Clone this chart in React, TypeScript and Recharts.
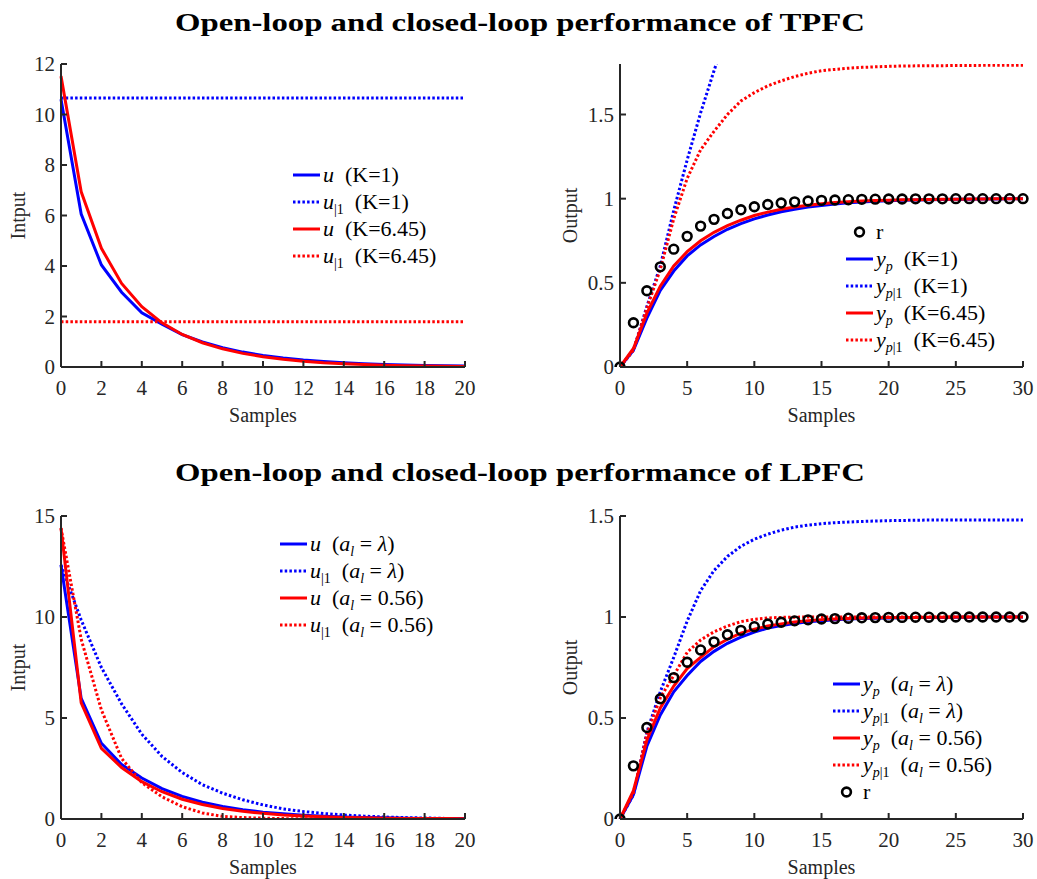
import type { ReactNode } from "react";
import { LineChart, Line, XAxis, YAxis, Label } from "recharts";

const FONT = '"Liberation Serif", "Times New Roman", serif';
const BLUE = "#0000ff";
const RED = "#ff0000";
const AXIS = "#262626";

// sample indices
const samples20 = [0, 1, 2, 3, 4, 5, 6, 7, 8, 9, 10, 11, 12, 13, 14, 15, 16, 17, 18, 19, 20];
const samples30 = [
  0, 1, 2, 3, 4, 5, 6, 7, 8, 9, 10, 11, 12, 13, 14, 15, 16, 17, 18, 19, 20, 21, 22, 23, 24, 25,
  26, 27, 28, 29, 30,
];

const ticks20 = [0, 2, 4, 6, 8, 10, 12, 14, 16, 18, 20];
const ticks30 = [0, 5, 10, 15, 20, 25, 30];
const tpInputTicks = [0, 2, 4, 6, 8, 10, 12];
const tpOutputTicks = [0, 0.5, 1, 1.5];
const lpInputTicks = [0, 5, 10, 15];
const lpOutputTicks = [0, 0.5, 1, 1.5];

// TPFC - input
const tpU_K1 = [10.6, 6.06, 4.04, 2.96, 2.15, 1.7, 1.28, 0.99, 0.76, 0.59, 0.46, 0.36, 0.28, 0.22, 0.17, 0.13, 0.1, 0.08, 0.06, 0.05, 0.04];
const tpU1_K1 = [10.65, 10.65, 10.65, 10.65, 10.65, 10.65, 10.65, 10.65, 10.65, 10.65, 10.65, 10.65, 10.65, 10.65, 10.65, 10.65, 10.65, 10.65, 10.65, 10.65, 10.65];
const tpU_K645 = [11.52, 6.94, 4.7, 3.31, 2.39, 1.75, 1.29, 0.96, 0.72, 0.54, 0.41, 0.31, 0.23, 0.17, 0.13, 0.1, 0.07, 0.05, 0.04, 0.03, 0.02];
const tpU1_K645 = [1.79, 1.79, 1.79, 1.79, 1.79, 1.79, 1.79, 1.79, 1.79, 1.79, 1.79, 1.79, 1.79, 1.79, 1.79, 1.79, 1.79, 1.79, 1.79, 1.79, 1.79];

// reference trajectory (both output plots)
const refR = [0, 0.263, 0.453, 0.595, 0.7, 0.776, 0.837, 0.877, 0.912, 0.934, 0.952, 0.965, 0.974, 0.981, 0.986, 0.99, 0.992, 0.994, 0.996, 0.997, 0.998, 0.998, 0.999, 0.999, 0.999, 1, 1, 1, 1, 1, 1];

// TPFC - output
const tpY_K1 = [0, 0.1, 0.29, 0.455, 0.57, 0.66, 0.725, 0.775, 0.818, 0.852, 0.88, 0.903, 0.922, 0.937, 0.95, 0.96, 0.968, 0.975, 0.98, 0.984, 0.987, 0.99, 0.992, 0.993, 0.995, 0.996, 0.997, 0.998, 0.998, 0.999, 0.999];
const tpY1_K1 = [0, 0.1, 0.36, 0.6, 0.93, 1.23, 1.51, 1.76, 2.0, 2.24, null, null, null, null, null, null, null, null, null, null, null, null, null, null, null, null, null, null, null, null, null];
const tpY_K645 = [0, 0.11, 0.32, 0.48, 0.6, 0.685, 0.75, 0.8, 0.84, 0.872, 0.9, 0.92, 0.937, 0.95, 0.961, 0.97, 0.977, 0.982, 0.986, 0.989, 0.991, 0.993, 0.994, 0.995, 0.996, 0.997, 0.998, 0.998, 0.999, 0.999, 1];
const tpY1_K645 = [0, 0.1, 0.35, 0.58, 0.88, 1.12, 1.29, 1.4, 1.5, 1.58, 1.63, 1.67, 1.7, 1.725, 1.745, 1.76, 1.768, 1.775, 1.78, 1.783, 1.786, 1.788, 1.789, 1.79, 1.79, 1.791, 1.791, 1.792, 1.792, 1.792, 1.792];

// LPFC - input
const lpU_lam = [12.57, 5.97, 3.75, 2.7, 2.03, 1.5, 1.12, 0.83, 0.62, 0.46, 0.34, 0.26, 0.19, 0.14, 0.1, 0.08, 0.06, 0.04, 0.03, 0.02, 0.02];
const lpU1_lam = [12.57, 9.85, 7.5, 5.7, 4.2, 3.1, 2.3, 1.7, 1.28, 0.95, 0.7, 0.5, 0.37, 0.27, 0.2, 0.14, 0.1, 0.07, 0.05, 0.03, 0.02];
const lpU_056 = [14.4, 5.75, 3.5, 2.55, 1.85, 1.35, 0.98, 0.72, 0.52, 0.38, 0.28, 0.2, 0.15, 0.11, 0.08, 0.06, 0.04, 0.03, 0.02, 0.02, 0.01];
const lpU1_056 = [14.4, 8.9, 5.4, 3.0, 1.8, 1.1, 0.61, 0.3, 0.13, 0.07, 0.04, 0.02, 0.01, 0.01, 0, 0, 0, 0, 0, 0, 0];

// LPFC - output
const lpY_lam = [0, 0.12, 0.36, 0.515, 0.63, 0.71, 0.78, 0.83, 0.87, 0.9, 0.925, 0.945, 0.958, 0.968, 0.976, 0.982, 0.986, 0.99, 0.992, 0.994, 0.995, 0.996, 0.997, 0.998, 0.998, 0.999, 0.999, 1, 1, 1, 1];
const lpY1_lam = [0, 0.12, 0.43, 0.63, 0.8, 0.98, 1.13, 1.23, 1.3, 1.35, 1.385, 1.41, 1.43, 1.445, 1.455, 1.462, 1.467, 1.47, 1.473, 1.475, 1.477, 1.478, 1.479, 1.48, 1.48, 1.48, 1.48, 1.48, 1.48, 1.48, 1.48];
const lpY_056 = [0, 0.14, 0.39, 0.55, 0.658, 0.745, 0.8, 0.853, 0.89, 0.92, 0.94, 0.955, 0.966, 0.975, 0.982, 0.987, 0.99, 0.993, 0.995, 0.996, 0.997, 0.998, 0.998, 0.999, 0.999, 1, 1, 1, 1, 1, 1];
const lpY1_056 = [0, 0.13, 0.42, 0.6, 0.71, 0.825, 0.886, 0.927, 0.955, 0.977, 0.989, 0.995, 0.998, 0.999, 1, 1, 1, 1, 1, 1, 1, 1, 1, 1, 1, 1, 1, 1, 1, 1, 1];

type Kind = "solid" | "dotted" | "circle";
interface Series {
  key: string;
  values: (number | null)[];
  color: string;
  kind: Kind;
  label: ReactNode;
}

const sub = (s: ReactNode) => (
  <sub style={{ fontSize: 14, verticalAlign: -5, lineHeight: 0 }}>{s}</sub>
);
const it = (s: string) => <i>{s}</i>;
const gap = "\u00a0\u00a0";

const TICK = 6;
const TICK_FONT = 21;

function BottomTick(props: any) {
  const { x, y, payload } = props;
  return (
    <g>
      <line x1={x} x2={x} y1={y} y2={y - TICK} stroke={AXIS} strokeWidth={2} />
      <text x={x} y={y + 28} textAnchor="middle" fontFamily={FONT} fontSize={TICK_FONT} fill={AXIS}>
        {payload.value}
      </text>
    </g>
  );
}
function TopTick(props: any) {
  const { x, y } = props;
  return <line x1={x} x2={x} y1={y} y2={y + TICK} stroke={AXIS} strokeWidth={2} />;
}
function LeftTick(props: any) {
  const { x, y, payload } = props;
  return (
    <g>
      <line x1={x} x2={x + TICK} y1={y} y2={y} stroke={AXIS} strokeWidth={2} />
      <text x={x - 6} y={y} dy="0.35em" textAnchor="end" fontFamily={FONT} fontSize={TICK_FONT} fill={AXIS}>
        {payload.value}
      </text>
    </g>
  );
}
function RightTick(props: any) {
  const { x, y } = props;
  return <line x1={x} x2={x - TICK} y1={y} y2={y} stroke={AXIS} strokeWidth={2} />;
}

interface PanelProps {
  box: { left: number; top: number; width: number; height: number };
  plot: { x0: number; y0: number; x1: number; y1: number };
  samples: number[];
  xTicks: number[];
  yTicks: number[];
  yDomain: [number, number];
  series: Series[];
  yTitle: string;
  yTitleGap: number;
  legend: { left: number; top: number; order: string[] };
}

const Y_AXIS_W = 50;
const X_AXIS_H = 50;

function Panel({ box, plot, samples, xTicks, yTicks, yDomain, series, yTitle, yTitleGap, legend }: PanelProps) {
  const data = samples.map((s, i) => {
    const row: Record<string, number | null> = { s };
    series.forEach((sr) => {
      row[sr.key] = sr.values[i] ?? null;
    });
    return row;
  });
  const margin = {
    left: plot.x0 - box.left - Y_AXIS_W,
    right: box.left + box.width - plot.x1,
    top: plot.y0 - box.top,
    bottom: box.top + box.height - plot.y1 - X_AXIS_H,
  };
  const xDomain: [number, number] = [xTicks[0], xTicks[xTicks.length - 1]];
  const axisLine = { stroke: AXIS, strokeWidth: 2 };

  return (
    <div style={{ position: "absolute", left: box.left, top: box.top, width: box.width, height: box.height }}>
      <LineChart width={box.width} height={box.height} data={data} margin={margin}>
        <XAxis
          xAxisId="b"
          dataKey="s"
          type="number"
          domain={xDomain}
          ticks={xTicks}
          height={X_AXIS_H}
          tickSize={0}
          tickMargin={0}
          tickLine={false}
          axisLine={axisLine}
          tick={<BottomTick />}
          interval={0}
        >
          <Label
            content={({ viewBox }: any) => (
              <text
                x={viewBox.x + viewBox.width / 2}
                y={viewBox.y + 55}
                textAnchor="middle"
                fontFamily={FONT}
                fontSize={20}
                fill={AXIS}
              >
                Samples
              </text>
            )}
          />
        </XAxis>
        <XAxis
          xAxisId="t"
          orientation="top"
          dataKey="s"
          type="number"
          domain={xDomain}
          ticks={xTicks}
          height={0}
          tickSize={0}
          tickMargin={0}
          tickLine={false}
          axisLine={axisLine}
          tick={<TopTick />}
          interval={0}
        />
        <YAxis
          yAxisId="l"
          type="number"
          domain={yDomain}
          ticks={yTicks}
          width={Y_AXIS_W}
          allowDataOverflow
          tickSize={0}
          tickMargin={0}
          tickLine={false}
          axisLine={axisLine}
          tick={<LeftTick />}
          interval={0}
        >
          <Label
            content={({ viewBox }: any) => {
              const cx = viewBox.x + viewBox.width - yTitleGap;
              const cy = viewBox.y + viewBox.height / 2;
              return (
                <text
                  x={cx}
                  y={cy}
                  dy="0.35em"
                  transform={`rotate(-90, ${cx}, ${cy})`}
                  textAnchor="middle"
                  fontFamily={FONT}
                  fontSize={20}
                  fill={AXIS}
                >
                  {yTitle}
                </text>
              );
            }}
          />
        </YAxis>
        <YAxis
          yAxisId="r"
          orientation="right"
          type="number"
          domain={yDomain}
          ticks={yTicks}
          width={0}
          allowDataOverflow
          tickSize={0}
          tickMargin={0}
          tickLine={false}
          axisLine={axisLine}
          tick={<RightTick />}
          interval={0}
        />
        {series.map((sr) =>
          sr.kind === "circle" ? (
            <Line
              key={sr.key}
              xAxisId="b"
              yAxisId="l"
              dataKey={sr.key}
              type="linear"
              stroke="none"
              dot={{ r: 4.4, stroke: "#000", strokeWidth: 2.6, fill: "none" }}
              isAnimationActive={false}
            />
          ) : (
            <Line
              key={sr.key}
              xAxisId="b"
              yAxisId="l"
              dataKey={sr.key}
              type="linear"
              stroke={sr.color}
              strokeWidth={3}
              strokeDasharray={sr.kind === "dotted" ? "2.5 2.2" : undefined}
              dot={false}
              isAnimationActive={false}
            />
          )
        )}
      </LineChart>
      <MatlabLegend
        left={legend.left - box.left}
        top={legend.top - box.top}
        items={legend.order.map((k) => series.find((s) => s.key === k)!)}
      />
    </div>
  );
}

function MatlabLegend({ left, top, items }: { left: number; top: number; items: Series[] }) {
  return (
    <div
      style={{
        position: "absolute",
        left,
        top,
        fontFamily: FONT,
        fontSize: 22,
        color: "#000",
      }}
    >
      {items.map((sr) => (
        <div key={sr.key} style={{ display: "flex", alignItems: "center", height: 27, whiteSpace: "nowrap" }}>
          <svg width={27} height={12} style={{ marginRight: 3, flex: "none" }}>
            {sr.kind === "circle" ? (
              <circle cx={13.5} cy={6} r={4.4} stroke="#000" strokeWidth={2.6} fill="none" />
            ) : (
              <line
                x1={0}
                x2={27}
                y1={6}
                y2={6}
                stroke={sr.color}
                strokeWidth={3}
                strokeDasharray={sr.kind === "dotted" ? "2.5 2.2" : undefined}
              />
            )}
          </svg>
          <span>{sr.label}</span>
        </div>
      ))}
    </div>
  );
}

const tpInputSeries: Series[] = [
  { key: "uK1", values: tpU_K1, color: BLUE, kind: "solid", label: <>{it("u")}{gap}(K=1)</> },
  { key: "u1K1", values: tpU1_K1, color: BLUE, kind: "dotted", label: <>{it("u")}{sub("|1")}{gap}(K=1)</> },
  { key: "uK645", values: tpU_K645, color: RED, kind: "solid", label: <>{it("u")}{gap}(K=6.45)</> },
  { key: "u1K645", values: tpU1_K645, color: RED, kind: "dotted", label: <>{it("u")}{sub("|1")}{gap}(K=6.45)</> },
];

const tpOutputSeries: Series[] = [
  { key: "r", values: refR, color: "#000", kind: "circle", label: <>r</> },
  { key: "yK1", values: tpY_K1, color: BLUE, kind: "solid", label: <>{it("y")}{sub(it("p"))}{gap}(K=1)</> },
  { key: "y1K1", values: tpY1_K1, color: BLUE, kind: "dotted", label: <>{it("y")}{sub(<>{it("p")}|1</>)}{gap}(K=1)</> },
  { key: "yK645", values: tpY_K645, color: RED, kind: "solid", label: <>{it("y")}{sub(it("p"))}{gap}(K=6.45)</> },
  { key: "y1K645", values: tpY1_K645, color: RED, kind: "dotted", label: <>{it("y")}{sub(<>{it("p")}|1</>)}{gap}(K=6.45)</> },
];

const al = <>{it("a")}{sub(it("l"))}</>;

const lpInputSeries: Series[] = [
  { key: "uLam", values: lpU_lam, color: BLUE, kind: "solid", label: <>{it("u")}{gap}({al} = {it("λ")})</> },
  { key: "u1Lam", values: lpU1_lam, color: BLUE, kind: "dotted", label: <>{it("u")}{sub("|1")}{gap}({al} = {it("λ")})</> },
  { key: "u056", values: lpU_056, color: RED, kind: "solid", label: <>{it("u")}{gap}({al} = 0.56)</> },
  { key: "u1056", values: lpU1_056, color: RED, kind: "dotted", label: <>{it("u")}{sub("|1")}{gap}({al} = 0.56)</> },
];

const lpOutputSeries: Series[] = [
  { key: "yLam", values: lpY_lam, color: BLUE, kind: "solid", label: <>{it("y")}{sub(it("p"))}{gap}({al} = {it("λ")})</> },
  { key: "y1Lam", values: lpY1_lam, color: BLUE, kind: "dotted", label: <>{it("y")}{sub(<>{it("p")}|1</>)}{gap}({al} = {it("λ")})</> },
  { key: "y056", values: lpY_056, color: RED, kind: "solid", label: <>{it("y")}{sub(it("p"))}{gap}({al} = 0.56)</> },
  { key: "y1056", values: lpY1_056, color: RED, kind: "dotted", label: <>{it("y")}{sub(<>{it("p")}|1</>)}{gap}({al} = 0.56)</> },
  { key: "r", values: refR, color: "#000", kind: "circle", label: <>r</> },
];

export default function App() {
  return (
    <div style={{ position: "absolute", left: 0, top: 0, width: 1037, height: 879, background: "#fff" }}>
      <svg width={1037} height={879} style={{ position: "absolute", left: 0, top: 0 }}>
        <text x={520} y={31} textAnchor="middle" fontFamily={FONT} fontWeight="bold" fontSize={26} textLength={690} lengthAdjust="spacingAndGlyphs" fill="#000">
          Open-loop and closed-loop performance of TPFC
        </text>
        <text x={520} y={481} textAnchor="middle" fontFamily={FONT} fontWeight="bold" fontSize={26} textLength={690} lengthAdjust="spacingAndGlyphs" fill="#000">
          Open-loop and closed-loop performance of LPFC
        </text>
      </svg>
      <Panel
        box={{ left: 0, top: 0, width: 518, height: 440 }}
        plot={{ x0: 61, y0: 64, x1: 465, y1: 367 }}
        samples={samples20}
        xTicks={ticks20}
        yTicks={tpInputTicks}
        yDomain={[0, 12]}
        series={tpInputSeries}
        yTitle="Intput"
        yTitleGap={43}
        legend={{ left: 293, top: 161, order: ["uK1", "u1K1", "uK645", "u1K645"] }}
      />
      <Panel
        box={{ left: 518, top: 0, width: 519, height: 440 }}
        plot={{ x0: 620, y0: 64, x1: 1023, y1: 367 }}
        samples={samples30}
        xTicks={ticks30}
        yTicks={tpOutputTicks}
        yDomain={[0, 1.8]}
        series={tpOutputSeries}
        yTitle="Output"
        yTitleGap={50}
        legend={{ left: 846, top: 218, order: ["r", "yK1", "y1K1", "yK645", "y1K645"] }}
      />
      <Panel
        box={{ left: 0, top: 440, width: 518, height: 439 }}
        plot={{ x0: 61, y0: 516, x1: 465, y1: 819 }}
        samples={samples20}
        xTicks={ticks20}
        yTicks={lpInputTicks}
        yDomain={[0, 15]}
        series={lpInputSeries}
        yTitle="Intput"
        yTitleGap={43}
        legend={{ left: 280, top: 530, order: ["uLam", "u1Lam", "u056", "u1056"] }}
      />
      <Panel
        box={{ left: 518, top: 440, width: 519, height: 439 }}
        plot={{ x0: 620, y0: 516, x1: 1023, y1: 819 }}
        samples={samples30}
        xTicks={ticks30}
        yTicks={lpOutputTicks}
        yDomain={[0, 1.5]}
        series={lpOutputSeries}
        yTitle="Output"
        yTitleGap={50}
        legend={{ left: 833, top: 670, order: ["yLam", "y1Lam", "y056", "y1056", "r"] }}
      />
    </div>
  );
}
